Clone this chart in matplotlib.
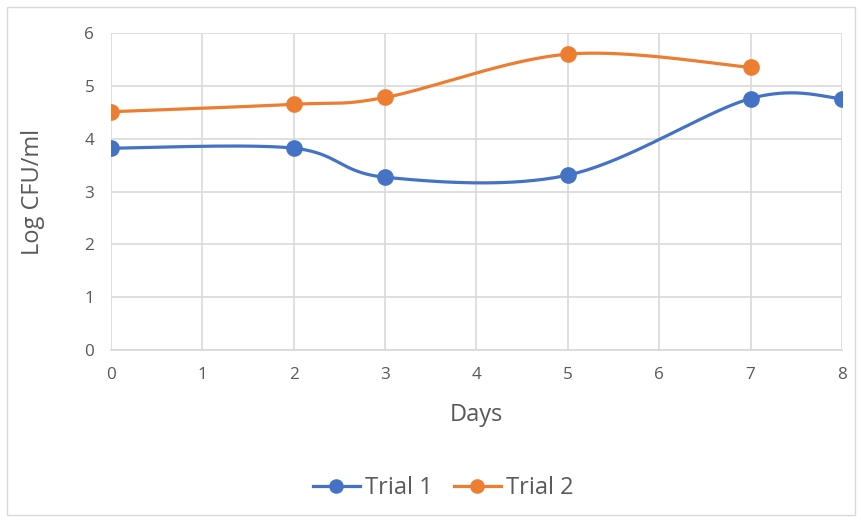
import numpy as np
import matplotlib.pyplot as plt
from matplotlib.lines import Line2D
from matplotlib.patches import Rectangle

days_1 = [0, 2, 3, 5, 7, 8]
trial_1 = [3.82, 3.82, 3.27, 3.31, 4.76, 4.76]
days_2 = [0, 2, 3, 5, 7]
trial_2 = [4.51, 4.65, 4.78, 5.60, 5.35]
x_ticks = [0, 1, 2, 3, 4, 5, 6, 7, 8]
y_ticks = [0, 1, 2, 3, 4, 5, 6]


def smooth(xs, ys, n=40):
    # Excel-like smoothing: Catmull-Rom as cubic Bezier segments
    p = np.column_stack([xs, ys]).astype(float)
    p = np.vstack([p[0], p, p[-1]])
    out = []
    t = np.linspace(0, 1, n)[:, None]
    for i in range(1, len(p) - 2):
        p0, p1, p2, p3 = p[i - 1], p[i], p[i + 1], p[i + 2]
        c1 = p1 + (p2 - p0) / 6
        c2 = p2 - (p3 - p1) / 6
        seg = ((1 - t) ** 3) * p1 + 3 * ((1 - t) ** 2) * t * c1 + 3 * (1 - t) * t ** 2 * c2 + t ** 3 * p2
        out.append(seg)
    out = np.vstack(out)
    return out[:, 0], out[:, 1]


plt.rcParams['font.family'] = ['Open Sans', 'DejaVu Sans']

fig = plt.figure(figsize=(8.62, 5.22), dpi=100)
ax = fig.add_axes([111 / 862, 1 - 350 / 522, (842 - 111) / 862, (350 - 33) / 522])

blue = "#4472C4"
orange = "#ED7D31"
handles = []
for xs, ys, c, lab in [(days_1, trial_1, blue, "Trial 1"), (days_2, trial_2, orange, "Trial 2")]:
    sx, sy = smooth(xs, ys)
    ax.plot(sx, sy, color=c, lw=2.3, solid_capstyle="round", zorder=3)
    ax.plot(xs, ys, "o", color=c, ms=11, zorder=4)
    handles.append(Line2D([], [], color=c, lw=2.3, marker="o", ms=9.5, label=lab))

ax.set_xlim(0, 8)
ax.set_ylim(0, 6)
ax.set_xticks(x_ticks)
ax.set_yticks(y_ticks)
ax.grid(color="#d9d9d9", lw=1.2)
ax.set_axisbelow(True)
for s in ["top", "right", "left"]:
    ax.spines[s].set_visible(False)
ax.spines["bottom"].set_color("#d9d9d9")
ax.spines["bottom"].set_linewidth(1.2)
ax.tick_params(length=0, colors="#595959", labelsize=12.3, pad=12)
ax.set_xlabel("Days", fontsize=17, color="#595959", va="center")
ax.set_ylabel("Log CFU/ml", fontsize=17, color="#595959", va="center")
ax.xaxis.set_label_coords(0.5, (350 - 415) / 317)
ax.yaxis.set_label_coords((33 - 111) / 731, 0.5)

fig.patches.append(Rectangle((7 / 862, 1 - 515 / 522), 848 / 862, 508 / 522, transform=fig.transFigure,
                             fill=False, edgecolor="#d9d9d9", lw=1))

fig.legend(handles=handles, loc="center", bbox_to_anchor=(443 / 862, 1 - 488 / 522), ncol=2, frameon=False,
           fontsize=17, labelcolor="#595959", handlelength=2.0, columnspacing=0.9, handletextpad=0.2)

fig.savefig("out.png", dpi=100)
